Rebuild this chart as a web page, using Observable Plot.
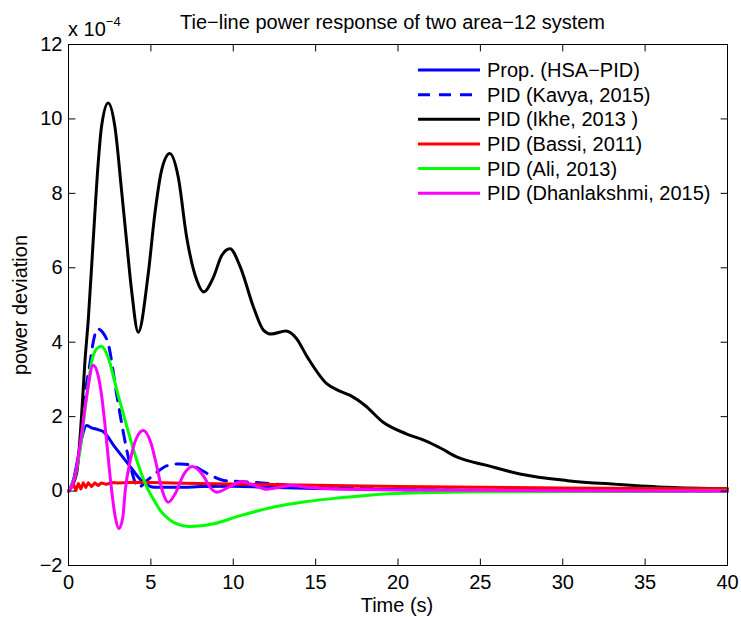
<!DOCTYPE html>
<html><head><meta charset="utf-8">
<script src="https://cdn.jsdelivr.net/npm/d3@7"></script>
<script src="https://cdn.jsdelivr.net/npm/@observablehq/plot@0.6"></script>
<style>
body{margin:0;background:#fff}
#chart svg{font-family:"Liberation Sans",Arial,Helvetica,sans-serif}
</style>
</head><body><div id="chart"></div>
<script>
const xTicks = [0,5,10,15,20,25,30,35,40];
const yTicks = [-2,0,2,4,6,8,10,12];
const xDomain = [0,40];
const yDomain = [-2,12];

const seriesNames = ["Prop. (HSA\u2212PID)","PID (Kavya, 2015)","PID (Ikhe, 2013 )","PID (Bassi, 2011)","PID (Ali, 2013)","PID (Dhanlakshmi, 2015)"];
const seriesColors = ["#0000ff","#0000ff","#000000","#ff0000","#00ff00","#ff00ff"];
const seriesDash = [null,"12,9",null,null,null,null];

// Prop. (HSA-PID)
const propT = [0,0.3,0.6,0.85,1.09,1.4,1.8,2.1,2.82,3.62,4.43,5.24,6,7,8,10,12,15,20,25,30,40];
const propV = [0,0.3,0.95,1.5,1.76,1.7,1.65,1.6,1.18,0.73,0.28,0.1,0.1,0.1,0.12,0.13,0.1,0.07,0.04,0.02,0.01,0];
// PID (Kavya, 2015)
const kavT = [0,0.4,0.7,0.95,1.3,1.5,1.76,2.1,2.41,2.92,3.42,3.8,4.23,4.8,5.4,6.05,6.8,7.47,8.48,9.5,10.4,12.2,13.4,15,17,20,25,30,40];
const kavV = [0,0.4,1.2,2.4,3.42,4.0,4.36,4.25,3.96,2.61,1.36,0.6,0.1,0.3,0.52,0.69,0.73,0.69,0.46,0.28,0.26,0.2,0.15,0.1,0.07,0.04,0.02,0.01,0];
// PID (Ikhe, 2013)
const ikhT = [0,0.5,0.79,1.0,1.2,1.5,1.8,2.0,2.41,2.82,3.22,3.52,3.83,4.23,4.84,5.24,5.65,6.15,6.66,7.17,7.8,8.2,8.8,9.3,9.8,10.43,11.23,11.84,12.3,13.2,13.8,14.5,15.69,16.4,17.1,18.0,19.1,20.5,21.6,22.6,23.6,25.4,27.4,30.3,33.3,36.3,40];
const ikhV = [0,0.5,2.0,3.5,4.6,6.74,8.8,9.78,10.43,9.78,8.08,6.74,5.39,4.27,5.84,7.45,8.62,9.07,8.44,6.83,5.65,5.35,5.75,6.33,6.51,6.02,4.94,4.32,4.22,4.3,4.12,3.6,2.88,2.7,2.57,2.3,1.85,1.54,1.36,1.15,0.91,0.69,0.46,0.28,0.18,0.1,0.06];
// PID (Bassi, 2011)
const basT = [0,0.2,0.3,0.45,0.6,0.75,0.9,1.05,1.2,1.4,1.6,1.8,2.0,2.3,2.6,3,4,5,7,10,14,20,25,30,35,40];
const basV = [0,0.12,0.18,0.02,0.2,0.06,0.22,0.1,0.22,0.12,0.22,0.15,0.22,0.18,0.23,0.22,0.24,0.23,0.21,0.19,0.16,0.12,0.1,0.08,0.07,0.06];
// PID (Ali, 2013)
const aliT = [0,0.4,0.7,1.12,1.42,1.7,2.0,2.4,2.94,3.55,4.15,4.76,5.2,5.57,6.0,6.38,7.39,8.8,10.43,12.45,14.47,16.5,19.5,22,25,30,40];
const aliV = [0,0.4,1.1,2.6,3.51,3.82,3.89,3.6,2.7,1.72,0.82,0.1,-0.25,-0.52,-0.72,-0.84,-0.95,-0.88,-0.66,-0.43,-0.28,-0.18,-0.07,-0.04,-0.02,-0.01,0];
// PID (Dhanlakshmi, 2015)
const dhaT = [0,0.4,0.71,1.12,1.5,1.8,2.03,2.3,2.53,2.84,3.06,3.3,3.44,3.75,4.1,4.54,5.0,5.37,5.7,6.05,6.5,7.0,7.51,8.2,8.6,8.99,9.8,10.5,11.3,12.05,12.8,13.5,14.5,16,20,25,30,40];
const dhaV = [0,0.4,1.27,2.6,3.38,3.1,2.5,1.4,0.37,-0.7,-1.01,-0.7,0.0,0.82,1.4,1.63,1.3,0.64,0.0,-0.3,-0.05,0.45,0.66,0.4,0.1,-0.03,0.12,0.26,0.15,0.05,0.1,0.15,0.1,0.06,0.03,0.02,0.01,0];

const seriesT = [propT,kavT,ikhT,basT,aliT,dhaT];
const seriesV = [propV,kavV,ikhV,basV,aliV,dhaV];
const seriesCurve = ["monotone-x","monotone-x","monotone-x","linear","monotone-x","monotone-x"];

const lineMarks = seriesNames.map((name,i) => {
  const rows = seriesT[i].map((t,j) => ({t, v: seriesV[i][j]}));
  return Plot.line(rows, {x:"t", y:"v", stroke: seriesColors[i], strokeWidth: 3,
    strokeDasharray: seriesDash[i] || undefined, curve: seriesCurve[i], strokeLinejoin:"round"});
});

const tickShape = {draw(ctx, l){ ctx.moveTo(0,0); ctx.lineTo(0,-l); }};
const tl = 6.5;

const plot = Plot.plot({
  width: 741, height: 617,
  marginLeft: 68, marginRight: 14, marginTop: 44, marginBottom: 52,
  style: {fontFamily: '"Liberation Sans",Arial,sans-serif', fontSize: "20px", color: "black", background: "white", overflow:"visible"},
  x: {domain: xDomain, label: null},
  y: {domain: yDomain, label: null},
  marks: [
    ...lineMarks,
    Plot.frame({stroke: "black", strokeWidth: 1}),
    Plot.vector(xTicks, {x: d=>d, y: yDomain[0], length: tl, rotate: 0, anchor: "start", shape: tickShape, stroke: "black", strokeWidth: 1}),
    Plot.vector(xTicks, {x: d=>d, y: yDomain[1], length: tl, rotate: 180, anchor: "start", shape: tickShape, stroke: "black", strokeWidth: 1}),
    Plot.vector(yTicks, {y: d=>d, x: xDomain[0], length: tl, rotate: 90, anchor: "start", shape: tickShape, stroke: "black", strokeWidth: 1}),
    Plot.vector(yTicks, {y: d=>d, x: xDomain[1], length: tl, rotate: -90, anchor: "start", shape: tickShape, stroke: "black", strokeWidth: 1}),
    Plot.axisX(xTicks, {tickSize: 0, tickPadding: 9, fontSize: 20}),
    Plot.axisY(yTicks, {tickSize: 0, tickPadding: 6, fontSize: 20})
  ]
});
document.getElementById("chart").appendChild(plot);

const svg = d3.select(plot);
const font = '"Liberation Sans",Arial,sans-serif';
svg.append("text").attr("x", 392.5).attr("y", 29).attr("text-anchor","middle")
  .attr("font-family", font).attr("font-size", 20).attr("fill","black")
  .text("Tie\u2212line power response of two area\u221212 system");
const ex = svg.append("text").attr("x", 68).attr("y", 36).attr("text-anchor","start")
  .attr("font-family", font).attr("font-size", 20).attr("fill","black");
ex.append("tspan").text("x 10");
ex.append("tspan").attr("font-size", 13).attr("dy", -10).text("\u22124");
svg.append("text").attr("x", 397).attr("y", 612).attr("text-anchor","middle")
  .attr("font-family", font).attr("font-size", 20).attr("fill","black").text("Time (s)");
svg.append("text").attr("transform","translate(27,305) rotate(-90)").attr("text-anchor","middle")
  .attr("font-family", font).attr("font-size", 20).attr("fill","black").text("power deviation");

const lg = svg.append("g");
seriesNames.forEach((name,i) => {
  const y = 70 + i*24.65;
  lg.append("line").attr("x1", 418).attr("x2", 480).attr("y1", y).attr("y2", y)
    .attr("stroke", seriesColors[i]).attr("stroke-width", 3)
    .attr("stroke-dasharray", seriesDash[i]);
  lg.append("text").attr("x", 487).attr("y", y).attr("dy","0.35em").attr("text-anchor","start")
    .attr("font-family", font).attr("font-size", 20).attr("fill","black").text(name);
});
</script>
</body></html>
